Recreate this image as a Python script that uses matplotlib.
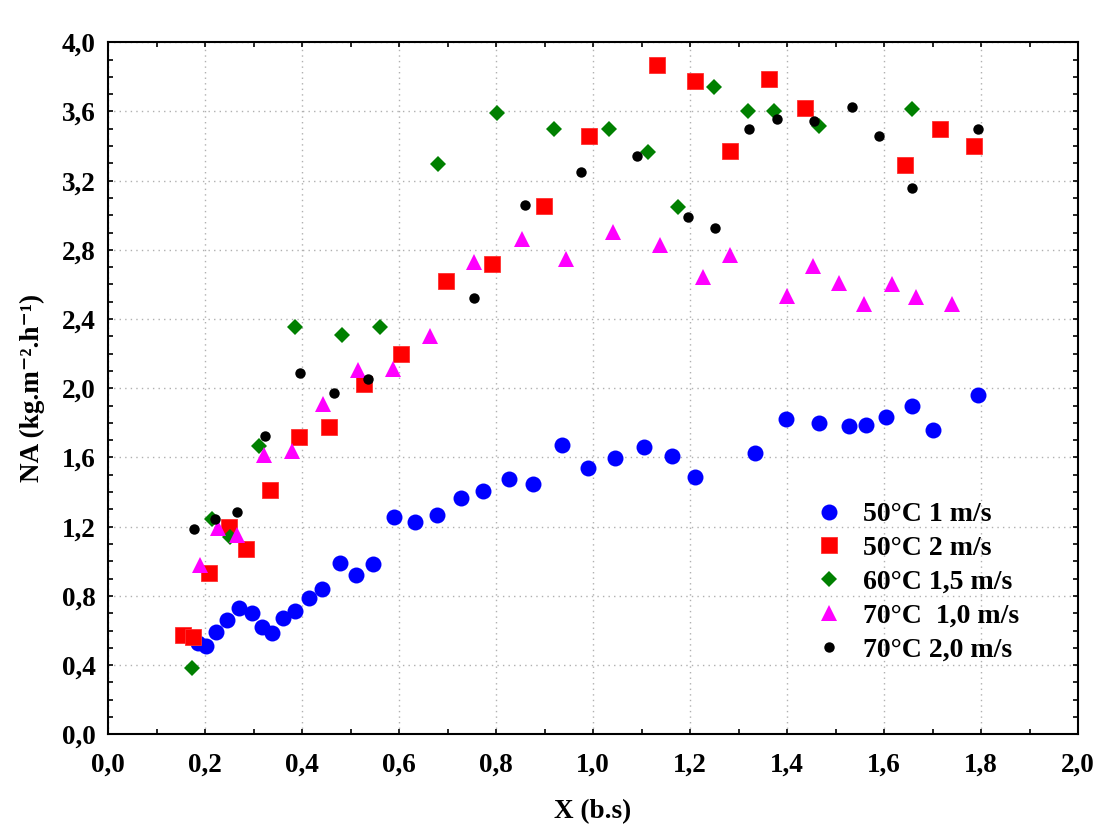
# drying rate NA vs moisture content X, five drying conditions
import matplotlib
matplotlib.use('Agg')
import matplotlib.pyplot as plt
from matplotlib.ticker import MultipleLocator, FuncFormatter

plt.rcParams['font.family'] = ['Liberation Serif', 'DejaVu Serif']
plt.rcParams['font.weight'] = 'bold'

# 50 C, 1 m/s
x_50_1 = [0.186, 0.202, 0.222, 0.246, 0.270, 0.297, 0.318, 0.338, 0.361, 0.386,
          0.415, 0.441, 0.479, 0.512, 0.546, 0.590, 0.633, 0.679, 0.727, 0.773,
          0.827, 0.877, 0.936, 0.990, 1.045, 1.105, 1.162, 1.211, 1.333, 1.398,
          1.466, 1.528, 1.563, 1.605, 1.657, 1.700, 1.794]
y_50_1 = [0.53, 0.51, 0.59, 0.66, 0.73, 0.70, 0.62, 0.585, 0.675, 0.71,
          0.785, 0.837, 0.99, 0.92, 0.987, 1.254, 1.23, 1.27, 1.368, 1.405,
          1.473, 1.448, 1.673, 1.54, 1.598, 1.66, 1.608, 1.489, 1.625, 1.825,
          1.80, 1.783, 1.79, 1.833, 1.90, 1.76, 1.96]

# 50 C, 2 m/s
x_50_2 = [0.154, 0.175, 0.208, 0.250, 0.285, 0.335, 0.394, 0.456, 0.527, 0.605,
          0.696, 0.791, 0.898, 0.992, 1.132, 1.211, 1.283, 1.363, 1.437, 1.643,
          1.715, 1.786]
y_50_2 = [0.575, 0.565, 0.935, 1.198, 1.07, 1.415, 1.72, 1.775, 2.025, 2.20,
          2.62, 2.72, 3.056, 3.458, 3.868, 3.775, 3.373, 3.79, 3.62, 3.29,
          3.50, 3.40]

# 60 C, 1.5 m/s
x_60_15 = [0.174, 0.214, 0.251, 0.312, 0.386, 0.483, 0.561, 0.681, 0.803, 0.919,
           1.033, 1.114, 1.176, 1.250, 1.319, 1.374, 1.466, 1.658]
y_60_15 = [0.384, 1.242, 1.142, 1.664, 2.355, 2.31, 2.352, 3.298, 3.593, 3.50,
           3.50, 3.364, 3.047, 3.741, 3.60, 3.60, 3.516, 3.614]

# 70 C, 1.0 m/s
x_70_1 = [0.189, 0.227, 0.265, 0.322, 0.379, 0.444, 0.515, 0.587, 0.664, 0.754,
          0.853, 0.945, 1.042, 1.138, 1.226, 1.283, 1.401, 1.454, 1.507, 1.558,
          1.617, 1.665, 1.741]
y_70_1 = [0.98, 1.195, 1.15, 1.617, 1.636, 1.912, 2.104, 2.112, 2.304, 2.731,
          2.864, 2.748, 2.902, 2.83, 2.643, 2.773, 2.531, 2.708, 2.608, 2.489,
          2.604, 2.525, 2.489]

# 70 C, 2.0 m/s
x_70_2 = [0.177, 0.220, 0.265, 0.324, 0.396, 0.467, 0.537, 0.754, 0.860, 0.976,
          1.091, 1.196, 1.251, 1.322, 1.380, 1.456, 1.533, 1.589, 1.657, 1.794]
y_70_2 = [1.185, 1.242, 1.287, 1.727, 2.09, 1.97, 2.054, 2.52, 3.06, 3.252,
          3.343, 2.993, 2.925, 3.50, 3.556, 3.545, 3.627, 3.46, 3.16, 3.497]

fig = plt.figure(figsize=(11.01, 8.34), dpi=100)
ax = fig.add_axes([108 / 1101, 1 - 734.3 / 834, 970 / 1101, 692 / 834])

ax.plot(x_50_1, y_50_1, 'o', color='#0000ff', ms=11.5, mew=0, label='50°C 1 m/s')
ax.plot(x_50_2, y_50_2, 's', color='#ff0000', ms=11, mew=0.6, mec='#ff3030', label='50°C 2 m/s')
ax.plot(x_60_15, y_60_15, 'D', color='#008000', ms=8, mew=0, label='60°C 1,5 m/s')
ax.plot(x_70_1, y_70_1, '^', color='#ff00ff', ms=11.5, mew=0, label='70°C  1,0 m/s')
ax.plot(x_70_2, y_70_2, 'o', color='black', ms=7.5, mew=0, label='70°C 2,0 m/s')

ax.set_xlim(0, 2.0)
ax.set_ylim(0, 4.0)
ax.xaxis.set_major_locator(MultipleLocator(0.2))
ax.xaxis.set_minor_locator(MultipleLocator(0.1))
ax.yaxis.set_major_locator(MultipleLocator(0.4))
ax.yaxis.set_minor_locator(MultipleLocator(0.1))
comma = FuncFormatter(lambda v, p: f'{v:.1f}'.replace('.', ','))
ax.xaxis.set_major_formatter(comma)
ax.yaxis.set_major_formatter(comma)

ax.tick_params(which='both', direction='in', top=True, right=True,
               length=3.5, width=1.2, labelsize=19.5)
ax.tick_params(axis='x', pad=13)
ax.tick_params(axis='y', pad=9)
for s in ax.spines.values():
    s.set_linewidth(1.5)
ax.grid(True, which='major', linestyle=(0, (1, 3)), color='#b0b0b0', linewidth=1)

ax.set_xlabel('X (b.s)', fontsize=19.5, fontweight='bold', labelpad=16)
ax.set_ylabel('NA (kg.m⁻².h⁻¹)', fontsize=19.5, fontweight='bold', labelpad=12)

ax.legend(loc='upper left', bbox_to_anchor=(0.718, 0.352), frameon=False,
          fontsize=20, handlelength=1.0, handletextpad=0.7,
          labelspacing=0.3, borderaxespad=0)

plt.savefig('out.png', dpi=100)
